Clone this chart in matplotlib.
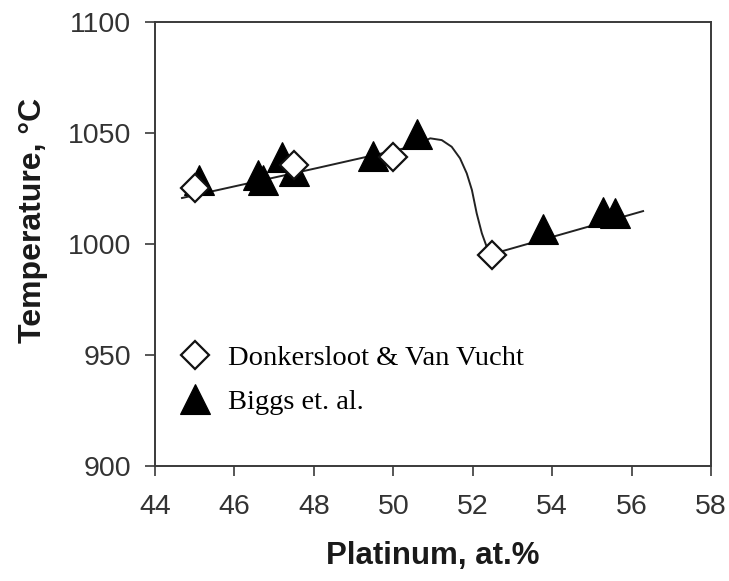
import matplotlib.pyplot as plt
from matplotlib.lines import Line2D

# Donkersloot & Van Vucht (open diamonds)
dvv_pt = [45.01, 47.50, 50.00, 52.49]
dvv_temp = [1025.2, 1035.7, 1039.4, 995.1]

# Biggs et. al. (filled triangles)
biggs_pt = [45.11, 46.59, 46.72, 47.21, 47.50, 49.50, 50.59, 53.78, 55.29, 55.58]
biggs_temp = [1029.1, 1031.2, 1029.0, 1039.4, 1033.0, 1039.7, 1049.8, 1006.8, 1014.6, 1014.0]

# hand drawn guide curve through the data
curve_pt = [44.68, 48.08, 50.60, 50.80, 50.93, 51.22, 51.47, 51.68, 51.85,
            51.98, 52.10, 52.23, 52.35, 52.45, 52.56, 56.29]
curve_temp = [1020.8, 1034.3, 1044.5, 1046.6, 1047.7, 1046.9, 1043.9, 1038.7,
              1031.9, 1024.4, 1013.9, 1004.9, 998.9, 996.6, 995.9, 1014.9]

xticks = [44, 46, 48, 50, 52, 54, 56, 58]
yticks = [900, 950, 1000, 1050, 1100]

axis_grey = "#3a3a3a"

fig = plt.figure(figsize=(7.29, 5.81), dpi=100)
ax = fig.add_axes([155 / 729, 1 - 466 / 581, 556 / 729, 443.7 / 581])

ax.plot(curve_pt, curve_temp, color="#222222", lw=1.4, zorder=2)
ax.plot(biggs_pt, biggs_temp, ls="none", marker="^", ms=21,
        mfc="black", mec="black", mew=0.8, zorder=3)
ax.plot(dvv_pt, dvv_temp, ls="none", marker="D", ms=14.5,
        mfc="white", mec="#111111", mew=1.6, zorder=4)

ax.set_xlim(44, 58)
ax.set_ylim(900, 1100)
ax.set_xticks(xticks)
ax.set_yticks(yticks)
ax.tick_params(direction="out", length=7, width=1.2, color=axis_grey,
               labelsize=20.5, labelcolor="#333333")
ax.tick_params(axis="y", pad=10)
ax.tick_params(axis="x", pad=13.5)
for s in ax.spines.values():
    s.set_color(axis_grey)
    s.set_linewidth(1.4)
for lab in ax.get_xticklabels() + ax.get_yticklabels():
    lab.set_family("Liberation Sans")

ax.set_xlabel("Platinum, at.%", fontsize=22.5, fontweight="bold",
              family="Liberation Sans", color="#1a1a1a", labelpad=15)
ax.set_ylabel("Temperature, \u00b0C", fontsize=23, fontweight="bold",
              family="Liberation Sans", color="#1a1a1a")
ax.yaxis.set_label_coords(-0.192, 0.554)

handles = [
    Line2D([], [], ls="none", marker="D", ms=14.5, mfc="white", mec="#111111", mew=1.6),
    Line2D([], [], ls="none", marker="^", ms=21, mfc="black", mec="black", mew=0.8),
]
ax.legend(handles, ["Donkersloot & Van Vucht", "Biggs et. al."],
          loc="upper left", bbox_to_anchor=(0.0463, 0.272), frameon=False,
          prop={"family": "Liberation Serif", "size": 20.5},
          handlelength=1.0, handletextpad=0.66, labelspacing=0.62,
          borderpad=0, borderaxespad=0, numpoints=1)

fig.savefig("out.png", dpi=100)
